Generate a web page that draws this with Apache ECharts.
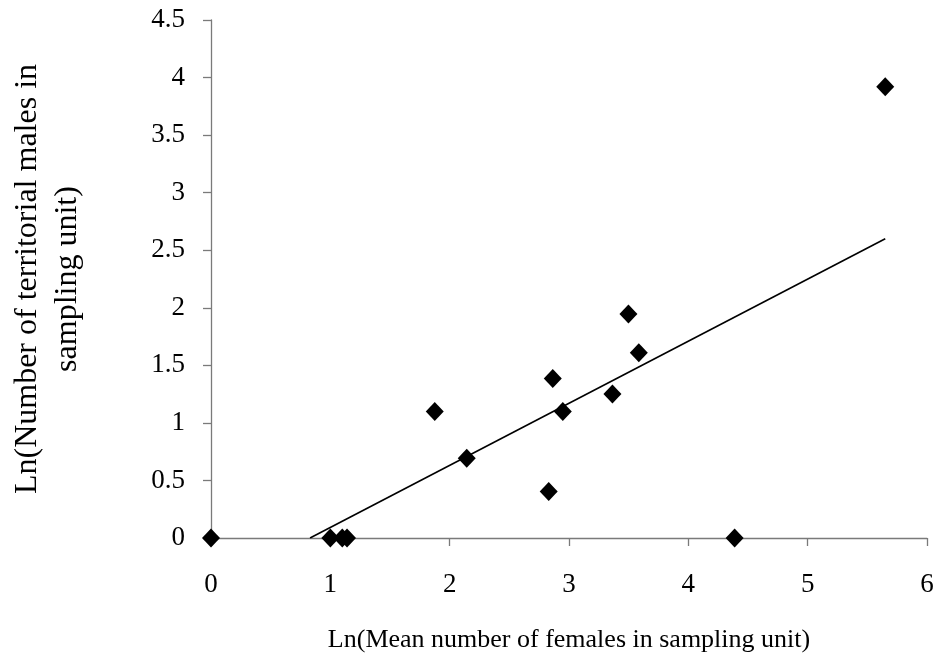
<!DOCTYPE html>
<html>
<head>
<meta charset="utf-8">
<script src="https://cdn.jsdelivr.net/npm/echarts@6/dist/echarts.min.js"></script>
<style>html,body{margin:0;padding:0;background:#fff}#c{width:940px;height:669px}</style>
</head>
<body>
<div id="c"></div>
<script>
// Data
const xValues = [0, 1.0, 1.10, 1.14, 1.875, 2.143, 2.83, 2.864, 2.948, 3.364, 3.498, 3.585, 4.388, 5.65];
const yValues = [0, 0, 0, 0, 1.099, 0.693, 0.405, 1.386, 1.099, 1.25, 1.946, 1.609, 0, 3.92];
const trendX = [0.83, 5.65];
const trendY = [0, 2.6];
const xTitle = 'Ln(Mean number of females in sampling unit)';
const yTitle = 'Ln(Number of territorial males in\nsampling unit)';

const points = xValues.map((x, i) => [x, yValues[i]]);
const trend = trendX.map((x, i) => [x, trendY[i]]);
const font = 'Liberation Serif';
const axisColor = '#7a7a7a';

const chart = echarts.init(document.getElementById('c'), null, {renderer: 'canvas'});
chart.setOption({
  animation: false,
  backgroundColor: '#fff',
  grid: {left: 211, right: 13, top: 20, bottom: 131, containLabel: false, outerBoundsMode: 'none'},
  xAxis: {
    type: 'value', min: 0, max: 6, interval: 1,
    name: xTitle, nameLocation: 'middle', nameGap: 89,
    nameTextStyle: {fontFamily: font, fontSize: 26, color: '#000'},
    axisLine: {show: true, onZero: false, lineStyle: {color: axisColor, width: 1.3}},
    axisTick: {show: true, inside: false, length: 8, lineStyle: {color: axisColor, width: 1.3}},
    axisLabel: {fontFamily: font, fontSize: 27, color: '#000', margin: 33},
    splitLine: {show: false}
  },
  yAxis: {
    type: 'value', min: 0, max: 4.5, interval: 0.5,
    name: yTitle, nameLocation: 'middle', nameGap: 123, nameRotate: 90,
    nameTextStyle: {fontFamily: font, fontSize: 32, color: '#000', lineHeight: 40},
    axisLine: {show: true, onZero: false, lineStyle: {color: axisColor, width: 1.3}},
    axisTick: {show: true, inside: false, length: 8, lineStyle: {color: axisColor, width: 1.3}},
    axisLabel: {fontFamily: font, fontSize: 27, color: '#000', margin: 26},
    splitLine: {show: false}
  },
  series: [
    {
      type: 'line', data: trend, showSymbol: false, symbol: 'none',
      lineStyle: {color: '#000', width: 1.6}, z: 2
    },
    {
      type: 'scatter', data: points, symbol: 'diamond', symbolSize: [18, 19],
      itemStyle: {color: '#000', opacity: 1}, z: 3
    }
  ]
});
</script>
</body>
</html>
